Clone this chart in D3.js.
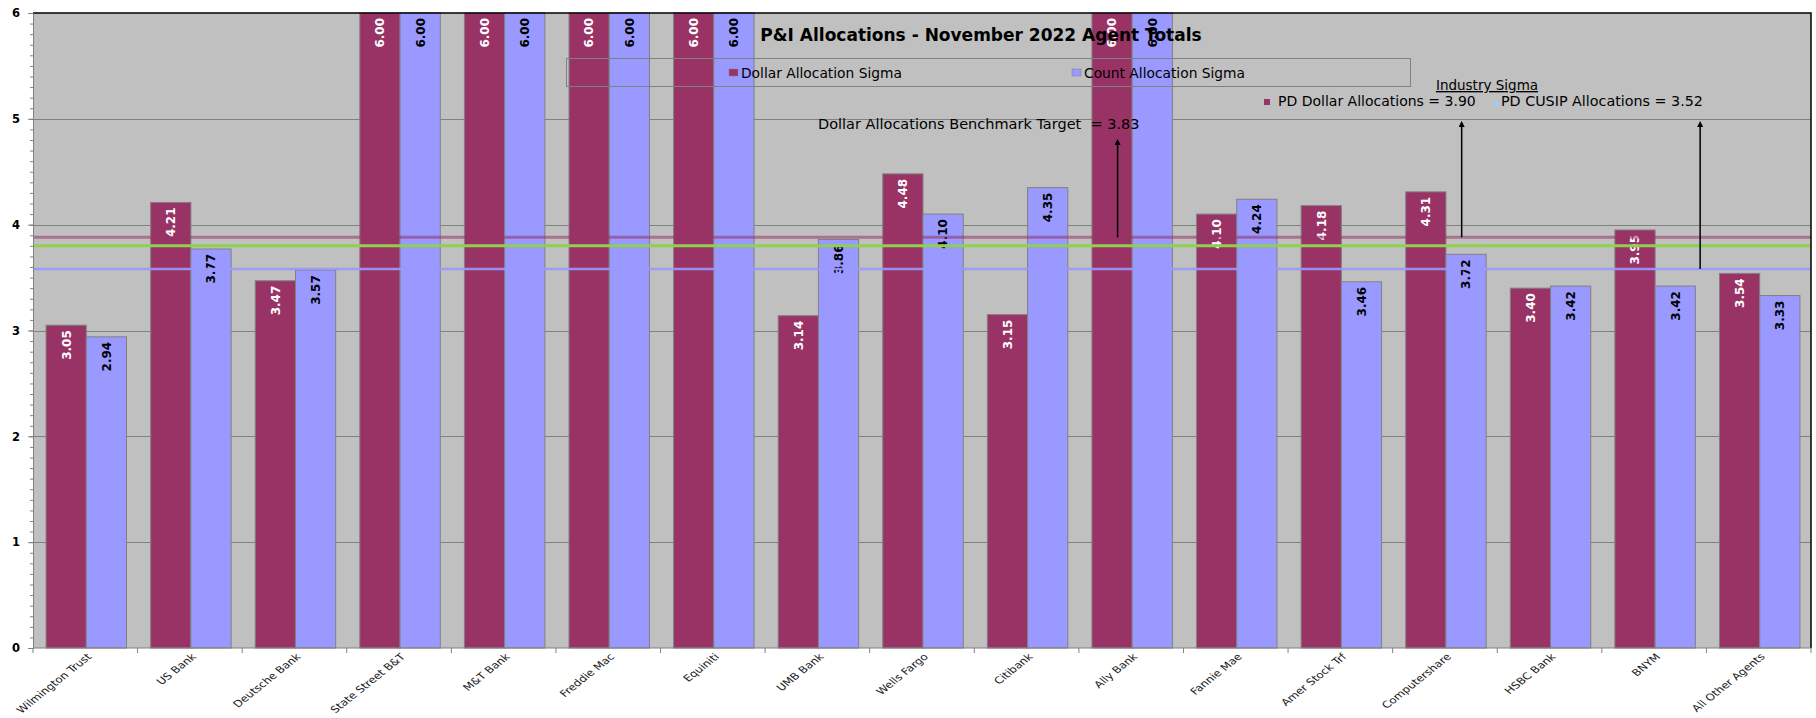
<!DOCTYPE html>
<html>
<head>
<meta charset="utf-8">
<script src="https://cdn.jsdelivr.net/npm/d3@7"></script>
<style>
  html, body { margin: 0; padding: 0; background: #fff; }
  svg { display: block; }
</style>
</head>
<body>
<div id="chart"></div>
<script>
/* P&I Allocations - November 2022 Agent Totals, Excel-style clustered bars */

const categories = ["Wilmington Trust", "US Bank", "Deutsche Bank", "State Street B&T", "M&T Bank",
  "Freddie Mac", "Equiniti", "UMB Bank", "Wells Fargo", "Citibank", "Ally Bank", "Fannie Mae",
  "Amer Stock Trf", "Computershare", "HSBC Bank", "BNYM", "All Other Agents"];
const dollarSigma = [3.05, 4.21, 3.47, 6.00, 6.00, 6.00, 6.00, 3.14, 4.48, 3.15, 6.00, 4.10, 4.18, 4.31, 3.40, 3.95, 3.54];
const countSigma  = [2.94, 3.77, 3.57, 6.00, 6.00, 6.00, 6.00, 3.86, 4.10, 4.35, 6.00, 4.24, 3.46, 3.72, 3.42, 3.42, 3.33];
const seriesNames = ["Dollar Allocation Sigma", "Count Allocation Sigma"];
const yTicks = [0, 1, 2, 3, 4, 5, 6];

// reference lines as drawn on the picture
const industryDollarLine = 3.88;
const benchmarkLine = 3.80;
const industryCusipLine = 3.58;

const width = 1816, height = 718;
const margin = { top: 13, right: 5, bottom: 70, left: 33 };
const colDollar = "#993366", colCount = "#9999ff";
const font = "DejaVu Sans, sans-serif";

const svg = d3.select("#chart").append("svg")
  .attr("width", width)
  .attr("height", height);

const x = d3.scaleBand()
  .domain(categories)
  .range([margin.left, width - margin.right])
  .padding(0);

const xs = d3.scaleBand()
  .domain(["dollar", "count"])
  .range([0, x.bandwidth()])
  .paddingInner(0)
  .paddingOuter(0.3);

const y = d3.scaleLinear()
  .domain([0, 6])
  .range([height - margin.bottom, margin.top]);

// continuous position along categories, for annotations
const xc = d3.scaleLinear()
  .domain([0, categories.length])
  .range([margin.left, width - margin.right]);

// Plot background
svg.append("rect")
  .attr("x", margin.left)
  .attr("y", margin.top)
  .attr("width", width - margin.left - margin.right)
  .attr("height", y(0) - y(6))
  .attr("fill", "#c0c0c0");

// Grid
svg.append("g")
  .selectAll("line")
  .data(yTicks.filter(d => d > 0 && d < 6))
  .join("line")
  .attr("x1", margin.left)
  .attr("x2", width - margin.right)
  .attr("y1", d => Math.round(y(d)) + 0.5)
  .attr("y2", d => Math.round(y(d)) + 0.5)
  .attr("stroke", "#808080")
  .attr("stroke-width", 1);

// Bars
const rows = categories.map((c, i) => ({ cat: c, dollar: dollarSigma[i], count: countSigma[i] }));

const groups = svg.append("g")
  .selectAll("g")
  .data(rows)
  .join("g")
  .attr("transform", d => `translate(${x(d.cat)},0)`);

groups.selectAll("rect")
  .data(d => [{ key: "dollar", v: d.dollar }, { key: "count", v: d.count }])
  .join("rect")
  .attr("x", d => xs(d.key) + 1)
  .attr("y", d => y(d.v))
  .attr("width", xs.bandwidth())
  .attr("height", d => y(0) - y(d.v))
  .attr("fill", d => d.key === "dollar" ? colDollar : colCount)
  .attr("stroke", "#808080")
  .attr("stroke-width", 1);

// Value labels (rotated, inside end)
groups.selectAll("text")
  .data(d => [{ key: "dollar", v: d.dollar }, { key: "count", v: d.count }])
  .join("text")
  .attr("transform", d => {
    const cx = xs(d.key) + 1 + xs.bandwidth() / 2;
    const ty = y(d.v) + 5;
    return `translate(${cx},${ty}) rotate(-90)`;
  })
  .attr("text-anchor", "end")
  .attr("dy", "0.36em")
  .attr("font-family", font)
  .attr("font-weight", "bold")
  .attr("font-size", 12)
  .attr("fill", d => d.key === "dollar" ? "#fff" : "#000")
  .text(d => d.v.toFixed(2));

// Reference lines
const refLines = [
  { v: industryDollarLine, color: colDollar, w: 3, op: 0.55 },
  { v: benchmarkLine, color: "#8fd14f", w: 3, op: 1 },
  { v: industryCusipLine, color: colCount, w: 2.5, op: 0.9 }
];
svg.append("g")
  .selectAll("line")
  .data(refLines)
  .join("line")
  .attr("x1", margin.left)
  .attr("x2", width - margin.right)
  .attr("y1", d => y(d.v))
  .attr("y2", d => y(d.v))
  .attr("stroke", d => d.color)
  .attr("stroke-width", d => d.w)
  .attr("opacity", d => d.op);

// Border: black top and right
svg.append("path")
  .attr("d", `M${margin.left},${y(6)}H${width - margin.right}V${y(0)}`)
  .attr("fill", "none")
  .attr("stroke", "#000")
  .attr("stroke-width", 1.5);

// Y axis
const yAxis = svg.append("g")
  .attr("transform", `translate(${margin.left},0)`);
yAxis.call(d3.axisLeft(y).tickValues(d3.range(0, 60).map(i => i / 10)).tickSize(3).tickFormat(""))
  .call(g => g.selectAll("line").attr("stroke", "#808080"))
  .call(g => g.select(".domain").attr("stroke", "#808080"));
yAxis.append("g")
  .call(d3.axisLeft(y).tickValues(yTicks).tickSize(5).tickPadding(8).tickFormat(d3.format("d")))
  .call(g => g.select(".domain").remove())
  .call(g => g.selectAll("line").attr("stroke", "#808080"))
  .call(g => g.selectAll("text")
    .attr("font-family", font)
    .attr("font-weight", "bold")
    .attr("font-size", 11.5)
    .attr("fill", "#000"));

// X axis
svg.append("line")
  .attr("x1", margin.left)
  .attr("x2", width - margin.right)
  .attr("y1", y(0))
  .attr("y2", y(0))
  .attr("stroke", "#808080");
svg.append("g")
  .selectAll("line")
  .data(d3.range(categories.length + 1))
  .join("line")
  .attr("x1", i => xc(i))
  .attr("x2", i => xc(i))
  .attr("y1", y(0))
  .attr("y2", y(0) + 5)
  .attr("stroke", "#808080");

// category labels: 45 degrees, stretched sideways like the source image
svg.append("g")
  .selectAll("text")
  .data(categories)
  .join("text")
  .attr("transform", d => `translate(${x(d) + x.bandwidth() / 2 + 4},${y(0) + 7}) scale(1.25,1) rotate(-45)`)
  .attr("text-anchor", "end")
  .attr("dy", "0.35em")
  .attr("font-family", font)
  .attr("font-size", 9.5)
  .attr("fill", "#1a1a1a")
  .text(d => d);

// Title
svg.append("text")
  .attr("x", 981)
  .attr("y", 41)
  .attr("text-anchor", "middle")
  .attr("font-family", font)
  .attr("font-weight", "bold")
  .attr("font-size", 17)
  .attr("fill", "#000")
  .text("P&I Allocations - November 2022 Agent Totals");

// Legend box (transparent)
const legend = svg.append("g");
legend.append("rect")
  .attr("x", 566.5)
  .attr("y", 58.5)
  .attr("width", 844)
  .attr("height", 28)
  .attr("fill", "none")
  .attr("stroke", "#808080");
const legendItems = legend.selectAll("g")
  .data(seriesNames)
  .join("g")
  .attr("transform", (d, i) => `translate(${[729, 1072][i]},73)`);
legendItems.append("rect")
  .attr("x", 0)
  .attr("y", -4)
  .attr("width", 9)
  .attr("height", 7)
  .attr("fill", (d, i) => i === 0 ? colDollar : colCount)
  .attr("stroke", "#808080")
  .attr("stroke-width", 0.5);
legendItems.append("text")
  .attr("x", 12)
  .attr("y", 0)
  .attr("dy", "0.35em")
  .attr("font-family", font)
  .attr("font-size", 13.8)
  .attr("fill", "#000")
  .text(d => d);

// Arrow marker
svg.append("defs").append("marker")
  .attr("id", "arrow")
  .attr("viewBox", "0 0 10 10")
  .attr("refX", 5)
  .attr("refY", 5)
  .attr("markerWidth", 6)
  .attr("markerHeight", 6)
  .attr("markerUnits", "userSpaceOnUse")
  .attr("orient", "auto")
  .append("path")
  .attr("d", "M0,0L10,5L0,10Z")
  .attr("fill", "#000");

const arrows = [
  { pos: 10.37, from: industryDollarLine, to: 4.81 },
  { pos: 13.66, from: industryDollarLine, to: 4.98 },
  { pos: 15.94, from: industryCusipLine, to: 4.98 }
];
svg.append("g")
  .selectAll("line")
  .data(arrows)
  .join("line")
  .attr("x1", d => xc(d.pos))
  .attr("x2", d => xc(d.pos))
  .attr("y1", d => y(d.from))
  .attr("y2", d => y(d.to) + 3)
  .attr("stroke", "#000")
  .attr("stroke-width", 1.5)
  .attr("marker-end", "url(#arrow)");

// Annotation texts
svg.append("text")
  .attr("x", 818)
  .attr("y", 129)
  .attr("font-family", font)
  .attr("font-size", 14.5)
  .attr("fill", "#000")
  .style("white-space", "pre")
  .text("Dollar Allocations Benchmark Target  = 3.83");

svg.append("text")
  .attr("x", 1487)
  .attr("y", 90)
  .attr("text-anchor", "middle")
  .attr("font-family", font)
  .attr("font-size", 13.5)
  .attr("text-decoration", "underline")
  .attr("fill", "#000")
  .text("Industry Sigma");

const industry = svg.append("g").attr("transform", "translate(0,106)");
industry.append("rect")
  .attr("x", 1264).attr("y", -7).attr("width", 6).attr("height", 6)
  .attr("fill", colDollar);
industry.append("text")
  .attr("x", 1278)
  .attr("font-family", font)
  .attr("font-size", 14)
  .attr("fill", "#000")
  .text("PD Dollar Allocations = " + "3.90");
industry.append("rect")
  .attr("x", 1494).attr("y", -4).attr("width", 5).attr("height", 4)
  .attr("fill", "#99ccff");
industry.append("text")
  .attr("x", 1501)
  .attr("font-family", font)
  .attr("font-size", 14.3)
  .attr("fill", "#000")
  .text("PD CUSIP Allocations = " + "3.52");
</script>
</body>
</html>
